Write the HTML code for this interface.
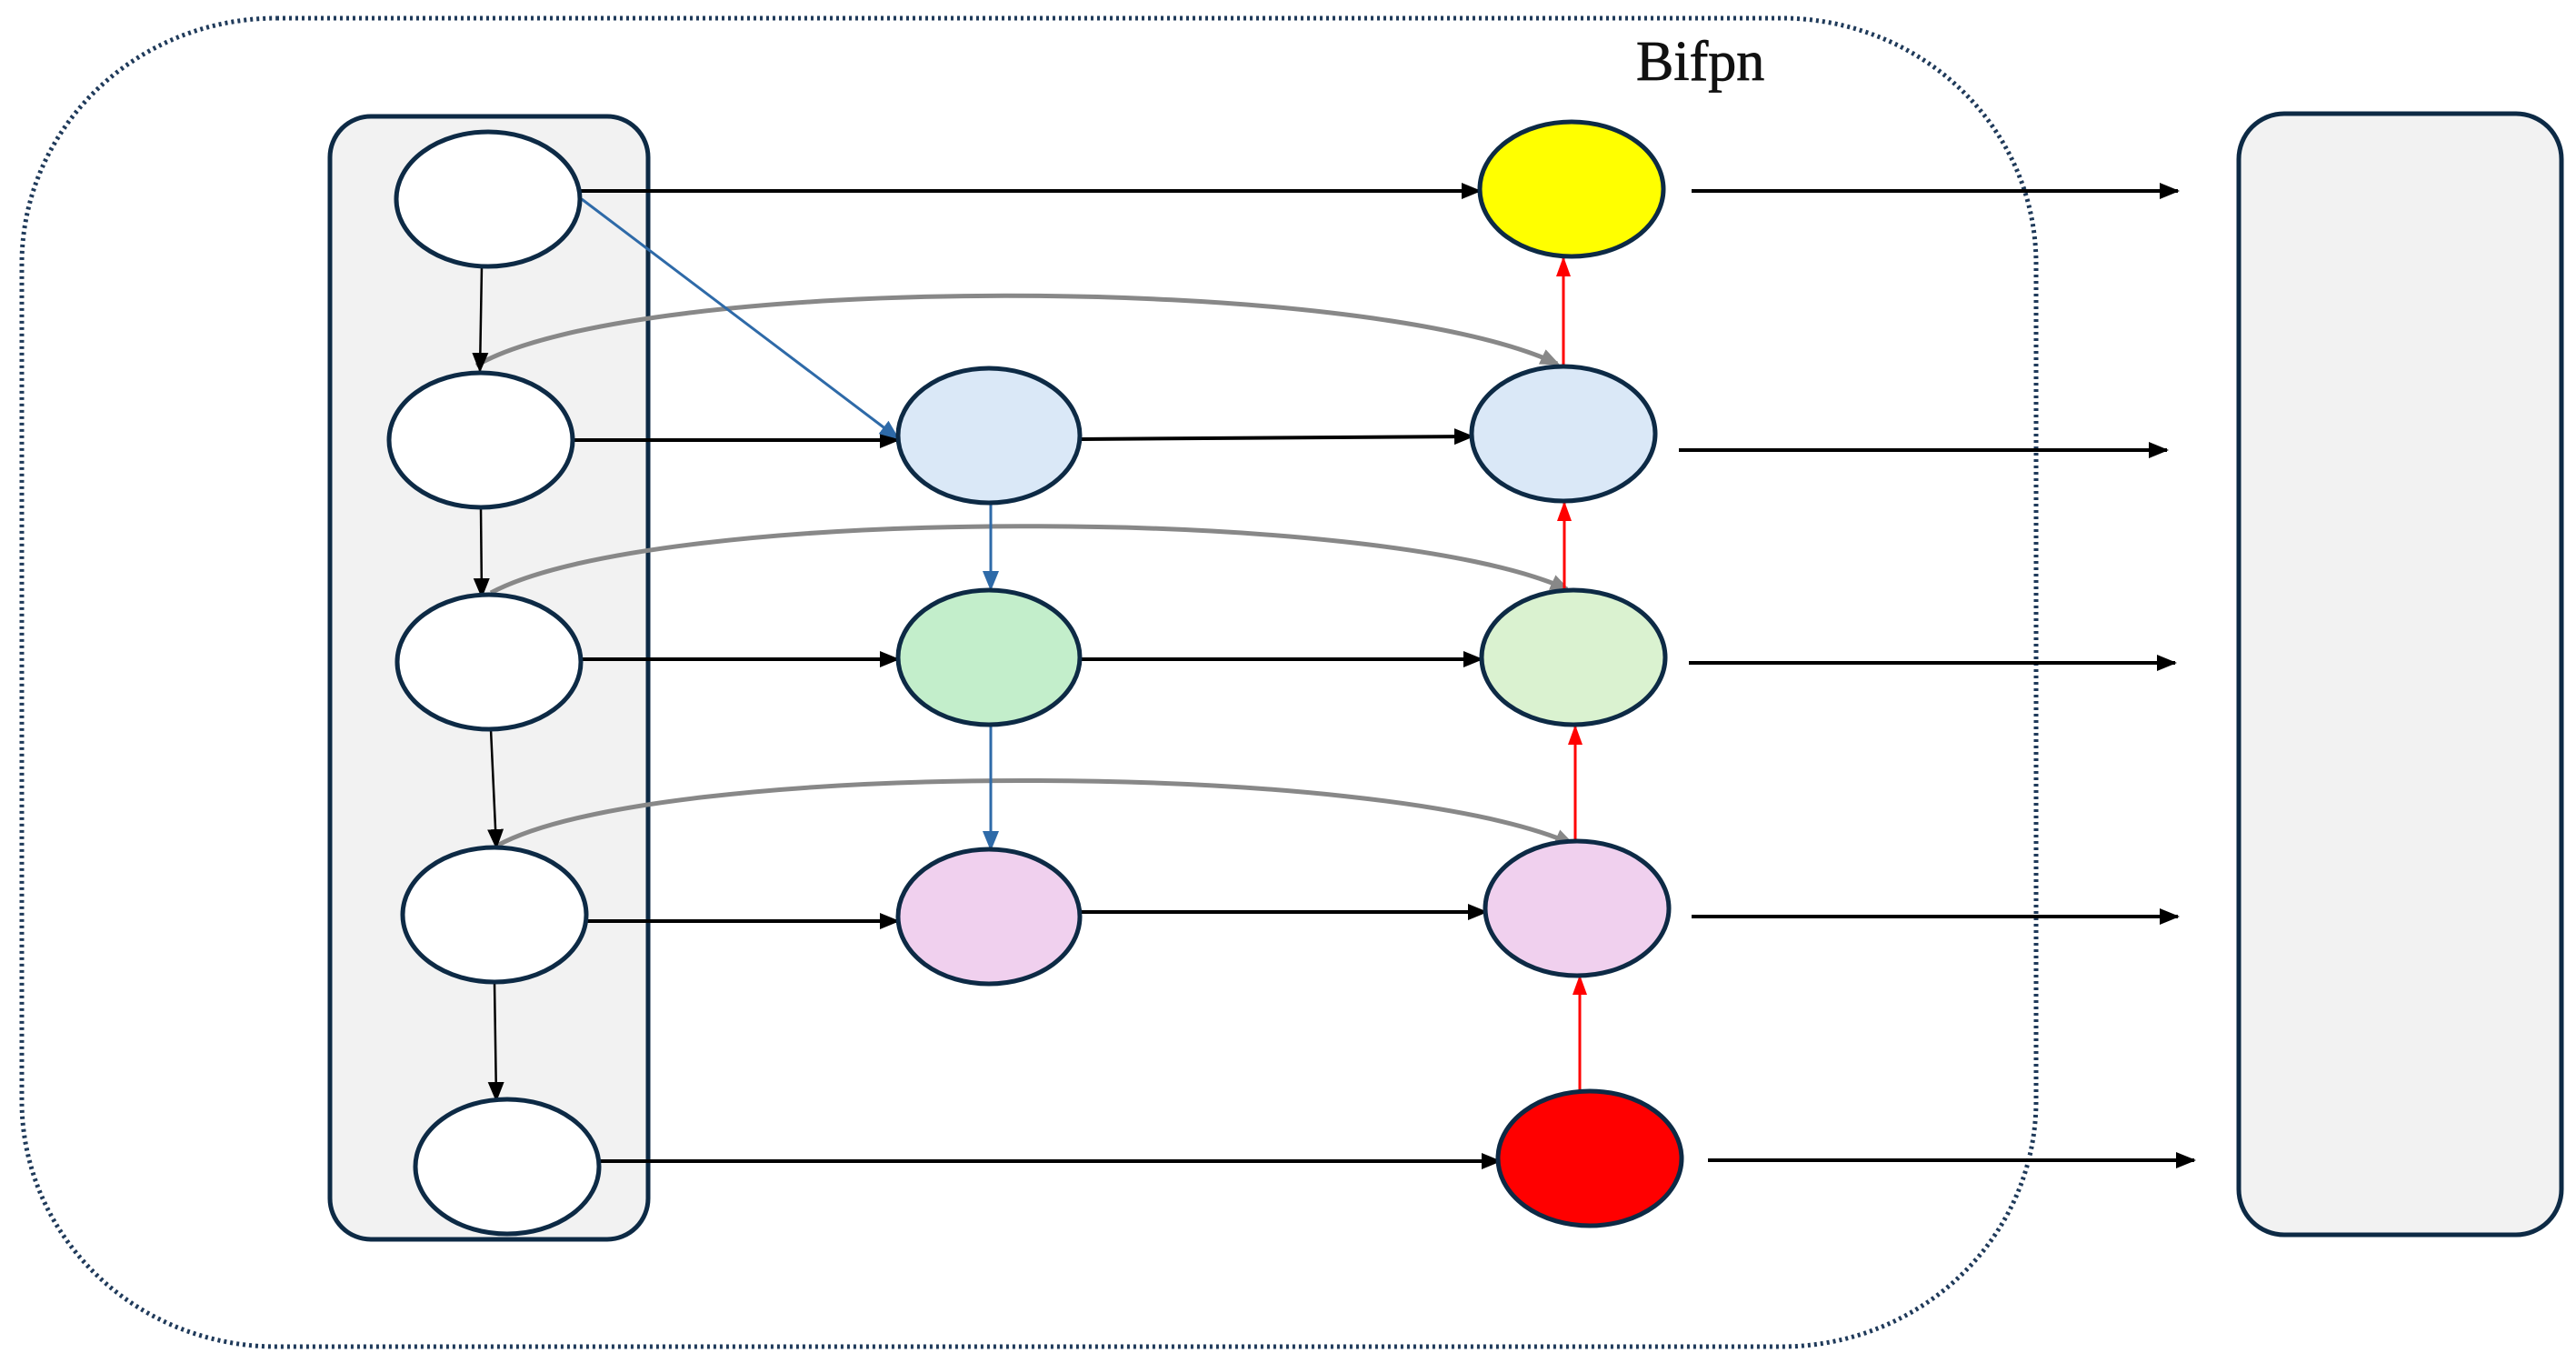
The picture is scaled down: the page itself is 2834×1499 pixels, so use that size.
<!DOCTYPE html>
<html><head><meta charset="utf-8"><style>html,body{margin:0;padding:0;background:#fff}svg{display:block}</style></head>
<body>
<svg width="2834" height="1499" viewBox="0 0 2834 1499" xmlns="http://www.w3.org/2000/svg">
<defs>
<marker id="abk" markerWidth="22" markerHeight="22" refX="20" refY="11" orient="auto" markerUnits="userSpaceOnUse"><path d="M0,2 L22,11 L0,20 z" fill="#000"/></marker>
<marker id="abl" markerWidth="22" markerHeight="22" refX="20" refY="11" orient="auto" markerUnits="userSpaceOnUse"><path d="M0,2 L22,11 L0,20 z" fill="#2e6aa8"/></marker>
<marker id="ard" markerWidth="22" markerHeight="22" refX="20" refY="11" orient="auto" markerUnits="userSpaceOnUse"><path d="M0,3 L22,11 L0,19 z" fill="#f00"/></marker>
<marker id="agr" markerWidth="22" markerHeight="22" refX="18" refY="11" orient="auto" markerUnits="userSpaceOnUse"><path d="M0,2 L22,11 L0,20 z" fill="#888"/></marker>
</defs>
<rect x="24" y="20" width="2216" height="1461" rx="280" ry="270" fill="none" stroke="#1f3a5a" stroke-width="5" stroke-dasharray="3 4"/>
<text x="1800" y="88" font-family="Liberation Serif, serif" font-size="62" fill="#111" stroke="#111" stroke-width="0.8">Bifpn</text>
<rect x="363" y="128" width="350" height="1235" rx="45" fill="#f2f2f2" stroke="#0d2a45" stroke-width="5"/>
<rect x="2463" y="125" width="355" height="1233" rx="50" fill="#f2f2f2" stroke="#0d2a45" stroke-width="5"/>
<g fill="none" stroke="#888" stroke-width="5">
<path d="M524,402 C700,300 1500,300 1713,400" marker-end="url(#agr)"/>
<path d="M540,652 C720,555 1520,555 1724,648" marker-end="url(#agr)"/>
<path d="M547,930 C720,835 1520,835 1729,928" marker-end="url(#agr)"/>
</g>
<g stroke="#000" stroke-width="4" fill="none">
<line x1="637" y1="210" x2="1628" y2="210" marker-end="url(#abk)"/>
<line x1="629" y1="484" x2="988" y2="484" marker-end="url(#abk)"/>
<line x1="638" y1="725" x2="988" y2="725" marker-end="url(#abk)"/>
<line x1="644" y1="1013" x2="988" y2="1013" marker-end="url(#abk)"/>
<line x1="658" y1="1277" x2="1650" y2="1277" marker-end="url(#abk)"/>
<line x1="1188" y1="483" x2="1620" y2="480" marker-end="url(#abk)"/>
<line x1="1188" y1="725" x2="1630" y2="725" marker-end="url(#abk)"/>
<line x1="1188" y1="1003" x2="1635" y2="1003" marker-end="url(#abk)"/>
<line x1="1861" y1="210" x2="2396" y2="210" marker-end="url(#abk)"/>
<line x1="1847" y1="495" x2="2384" y2="495" marker-end="url(#abk)"/>
<line x1="1858" y1="729" x2="2393" y2="729" marker-end="url(#abk)"/>
<line x1="1861" y1="1008" x2="2396" y2="1008" marker-end="url(#abk)"/>
<line x1="1879" y1="1276" x2="2414" y2="1276" marker-end="url(#abk)"/>
<line x1="530" y1="293" x2="528" y2="408" stroke-width="2.5" marker-end="url(#abk)"/>
<line x1="529" y1="558" x2="530" y2="656" stroke-width="2.5" marker-end="url(#abk)"/>
<line x1="540" y1="802" x2="546" y2="932" stroke-width="2.5" marker-end="url(#abk)"/>
<line x1="544" y1="1080" x2="546" y2="1210" stroke-width="2.5" marker-end="url(#abk)"/>
</g>
<g stroke="#2e6aa8" stroke-width="3" fill="none">
<line x1="640" y1="219" x2="988" y2="482" marker-end="url(#abl)"/>
<line x1="1090" y1="553" x2="1090" y2="648" marker-end="url(#abl)"/>
<line x1="1090" y1="797" x2="1090" y2="934" marker-end="url(#abl)"/>
</g>
<g stroke="#f00" stroke-width="3" fill="none">
<line x1="1720" y1="403" x2="1720" y2="284" marker-end="url(#ard)"/>
<line x1="1721" y1="650" x2="1721" y2="553" marker-end="url(#ard)"/>
<line x1="1733" y1="927" x2="1733" y2="799" marker-end="url(#ard)"/>
<line x1="1738" y1="1200" x2="1738" y2="1074" marker-end="url(#ard)"/>
</g>
<g stroke="#0d2a45" stroke-width="5">
<ellipse cx="537" cy="219" rx="101" ry="74" fill="#fff"/>
<ellipse cx="529" cy="484" rx="101" ry="74" fill="#fff"/>
<ellipse cx="538" cy="728" rx="101" ry="74" fill="#fff"/>
<ellipse cx="544" cy="1006" rx="101" ry="74" fill="#fff"/>
<ellipse cx="558" cy="1283" rx="101" ry="74" fill="#fff"/>
<ellipse cx="1088" cy="479" rx="100" ry="74" fill="#dae8f7"/>
<ellipse cx="1088" cy="723" rx="100" ry="74" fill="#c3eecb"/>
<ellipse cx="1088" cy="1008" rx="100" ry="74" fill="#f0d0ee"/>
<ellipse cx="1729" cy="208" rx="101" ry="74" fill="#ffff00"/>
<ellipse cx="1720" cy="477" rx="101" ry="74" fill="#dae8f7"/>
<ellipse cx="1731" cy="723" rx="101" ry="74" fill="#daf2d0"/>
<ellipse cx="1735" cy="999" rx="101" ry="74" fill="#f0d0ee"/>
<ellipse cx="1749" cy="1274" rx="101" ry="74" fill="#ff0000"/>
</g>
</svg>
</body></html>
